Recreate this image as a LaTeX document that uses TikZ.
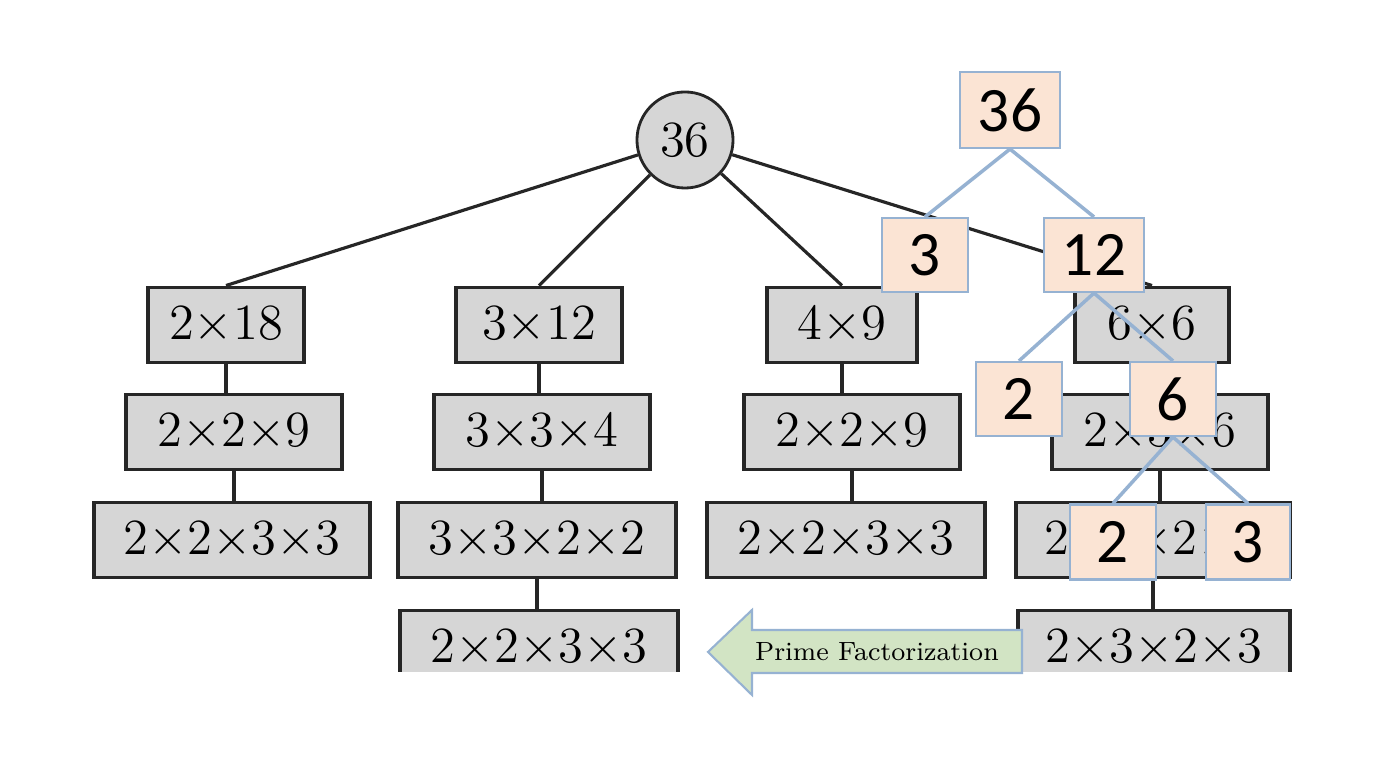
\documentclass[tikz,border=0pt]{standalone}
\usepackage{fontspec}
\newfontfamily\carlito{Carlito}
\definecolor{boxgray}{RGB}{214,214,214}
\definecolor{peach}{RGB}{251,228,212}
\definecolor{paleblue}{RGB}{150,178,210}
\definecolor{leafgreen}{RGB}{210,228,196}
\newcommand{\tm}{{\times}}
\begin{document}
\begin{tikzpicture}[
    x=0.01cm, y=-0.01cm,
    gbox/.style={draw=black!85, line width=1.1pt, fill=boxgray, font=\fontsize{15.5}{18}\selectfont, minimum height=0.75cm, inner sep=0pt},
    obox/.style={draw=paleblue, line width=0.6pt, fill=peach, font=\carlito\fontsize{18}{22}\selectfont, minimum width=0.86cm, minimum height=0.74cm, inner sep=0pt},
    tline/.style={line width=0.9pt, black!85},
    bline/.style={line width=1pt, paleblue}
]
   \useasboundingbox (0,0) rectangle (1384,768);

   % Tree of gray boxes
   \node[circle, draw=black!85, line width=0.8pt, fill=boxgray, minimum size=0.96cm, inner sep=0pt, font=\fontsize{15.5}{18}\selectfont] (root) at (685,140) {$36$};
   \begin{scope}
   \clip (0,0) rectangle (1384,672);
   \node[gbox, minimum width=1.56cm] (b11) at (226,325) {$2\tm18$};
   \node[gbox, minimum width=2.16cm] (b12) at (234,432) {$2\tm2\tm9$};
   \node[gbox, minimum width=2.75cm] (b13) at (232,540) {$2\tm2\tm3\tm3$};
   \node[gbox, minimum width=1.66cm] (b21) at (539,325) {$3\tm12$};
   \node[gbox, minimum width=2.16cm] (b22) at (542,432) {$3\tm3\tm4$};
   \node[gbox, minimum width=2.78cm] (b23) at (537,540) {$3\tm3\tm2\tm2$};
   \node[gbox, minimum width=2.78cm] (b24) at (539,648) {$2\tm2\tm3\tm3$};
   \node[gbox, minimum width=1.50cm] (b31) at (842,325) {$4\tm9$};
   \node[gbox, minimum width=2.16cm] (b32) at (852,432) {$2\tm2\tm9$};
   \node[gbox, minimum width=2.77cm] (b33) at (846,540) {$2\tm2\tm3\tm3$};
   \node[gbox, minimum width=1.54cm] (b41) at (1152,325) {$6\tm6$};
   \node[gbox, minimum width=2.16cm] (b42) at (1160,432) {$2\tm3\tm6$};
   \node[gbox, minimum width=2.74cm] (b43) at (1153,540) {$2\tm3\tm2\tm3$};
   \node[gbox, minimum width=2.72cm] (b44) at (1154,648) {$2\tm3\tm2\tm3$};
   \end{scope}

   \draw[tline] (root) -- (b11.north);
   \draw[tline] (root) -- (b21.north);
   \draw[tline] (root) -- (b31.north);
   \draw[tline] (root) -- (b41.north);
   \foreach \c in {1,2,3,4}{
     \draw[tline] (b\c1.south) -- (b\c1.south |- b\c2.north);
     \draw[tline] (b\c2.south) -- (b\c2.south |- b\c3.north);
   }
   \draw[tline] (b23.south) -- (b23.south |- b24.north);
   \draw[tline] (b43.south) -- (b43.south |- b44.north);

   % Prime factor tree
   \node[obox, minimum width=1.00cm, minimum height=0.76cm] (o36) at (1010,110) {36};
   \node[obox] (o3) at (925,255) {3};
   \node[obox, minimum width=1.00cm] (o12) at (1094,255) {12};
   \node[obox] (o2) at (1019,399) {2};
   \node[obox] (o6) at (1173,399) {6};
   \node[obox, minimum height=0.75cm] (o2b) at (1113,542) {2};
   \node[obox, minimum width=0.84cm, minimum height=0.75cm] (o3b) at (1248,542) {3};
   \draw[bline] (o36.south) -- (o3.north);
   \draw[bline] (o36.south) -- (o12.north);
   \draw[bline] (o12.south) -- (o2.north);
   \draw[bline] (o12.south) -- (o6.north);
   \draw[bline] (o6.south) -- (o2b.north);
   \draw[bline] (o6.south) -- (o3b.north);

   % Arrow
   \draw[paleblue, line width=0.6pt, fill=leafgreen] (708,652) -- (752,610) -- (752,630) -- (1022,630)
     -- (1022,673) -- (752,673) -- (752,695) -- cycle;
   \node[font=\fontsize{7.5}{9}\selectfont] (pf) at (877,652) {Prime Factorization};
\end{tikzpicture}
\end{document}
